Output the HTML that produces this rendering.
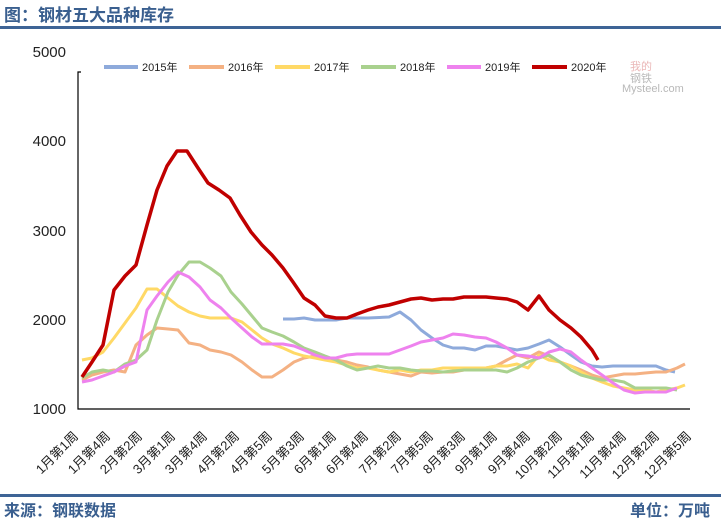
<!DOCTYPE html>
<html><head><meta charset="utf-8"><style>
body{margin:0;background:#fff;}
svg{display:block;font-family:"Liberation Sans","Noto Sans CJK SC",sans-serif;}
</style></head><body>
<svg width="721" height="523" viewBox="0 0 721 523">
<text x="4" y="21" font-size="17" font-weight="bold" fill="#3a5f8f">图：钢材五大品种库存</text>
<rect x="0" y="26" width="721" height="3" fill="#3e6496"/>
<rect x="0" y="494" width="721" height="3" fill="#3e6496"/>
<text x="4" y="516" font-size="16" font-weight="bold" fill="#3a5f8f">来源：钢联数据</text>
<text x="710" y="516" font-size="16" font-weight="bold" fill="#3a5f8f" text-anchor="end">单位：万吨</text>
<g font-size="15" fill="#222" text-anchor="end">
<text x="66" y="57">5000</text><text x="66" y="146">4000</text><text x="66" y="236">3000</text><text x="66" y="325">2000</text><text x="66" y="414">1000</text>
</g>
<path d="M81 72 H78 V409 H690" fill="none" stroke="#000" stroke-width="1.2"/>
<g font-size="11" fill="#8a8a8a" opacity="0.6"><text x="630" y="70" fill="#d88">我的</text><text x="630" y="82">钢铁</text><text x="622" y="92">Mysteel.com</text></g>
<g font-size="11" fill="#222">
<line x1="104" y1="67" x2="138" y2="67" stroke="#8eaadb" stroke-width="4"/><text x="142" y="71">2015年</text>
<line x1="189" y1="67" x2="224" y2="67" stroke="#f4b183" stroke-width="4"/><text x="228" y="71">2016年</text>
<line x1="275" y1="67" x2="310" y2="67" stroke="#ffd966" stroke-width="4"/><text x="314" y="71">2017年</text>
<line x1="361" y1="67" x2="396" y2="67" stroke="#a9d18e" stroke-width="4"/><text x="400" y="71">2018年</text>
<line x1="447" y1="67" x2="481" y2="67" stroke="#ee82ee" stroke-width="4"/><text x="485" y="71">2019年</text>
<line x1="532" y1="67" x2="567" y2="67" stroke="#c00000" stroke-width="4"/><text x="571" y="71">2020年</text>
</g>
<g fill="none" stroke-width="3" stroke-linejoin="round">
<polyline stroke="#8eaadb" points="283,319 294,319 304,318 315,320 336,320 347,318 368,318 389,317 400,312 411,320 421,330 432,338 443,345 453,348 464,348 475,350 486,346 496,346 507,348 517,350 528,348 539,344 549,340 560,347 571,355 581,362 592,366 602,367 613,366 624,366 635,366 645,366 656,366 666,370 675,372"/>
<polyline stroke="#f4b183" points="82,380 92,375 103,372 114,370 125,372 136,345 147,335 157,328 168,329 178,330 189,343 200,345 210,350 221,352 231,355 242,362 252,370 262,377 272,377 283,370 294,362 304,358 315,356 325,358 336,360 347,362 357,365 368,367 378,370 389,372 400,374 411,376 421,372 432,373 443,372 453,372 464,370 475,368 486,368 496,366 507,360 517,355 528,358 539,352 549,356 560,362 571,366 581,370 592,375 602,378 613,376 624,374 635,374 645,373 656,372 666,372 677,368 685,364"/>
<polyline stroke="#ffd966" points="82,360 92,358 103,352 114,338 125,323 136,308 147,289 157,289 168,298 178,306 189,312 200,316 210,318 221,318 231,318 242,322 252,330 262,338 272,344 283,348 294,353 304,356 315,358 325,360 336,362 347,365 357,368 368,368 378,370 389,372 400,370 411,372 421,370 432,370 443,368 453,368 464,368 475,368 486,368 496,366 507,366 517,364 528,368 539,355 549,360 560,362 571,366 581,372 592,378 602,382 613,386 624,388 635,390 645,390 656,392 666,390 677,388 685,385"/>
<polyline stroke="#a9d18e" points="82,378 92,372 103,370 114,372 125,364 136,360 147,350 157,320 168,292 178,275 189,262 200,262 210,268 221,276 231,292 242,304 252,316 262,328 272,332 283,336 294,342 304,348 315,352 325,356 336,360 347,366 357,370 368,368 378,366 389,368 400,368 411,370 421,371 432,371 443,372 453,371 464,370 475,370 486,370 496,370 507,372 517,368 528,362 539,358 549,355 560,362 571,370 581,375 592,378 602,380 613,380 624,382 635,388 645,388 656,388 666,388 677,390"/>
<polyline stroke="#ee82ee" points="82,382 92,380 103,376 114,372 125,366 136,362 147,310 157,296 168,282 178,272 189,277 200,287 210,300 221,308 231,318 242,328 252,337 262,344 272,344 283,344 294,346 304,350 315,355 325,358 336,358 347,355 357,354 368,354 378,354 389,354 400,350 411,346 421,342 432,340 443,338 453,334 464,335 475,337 486,338 496,342 507,348 517,355 528,356 539,358 549,352 560,349 571,352 581,360 592,368 602,375 613,383 624,390 635,393 645,392 656,392 666,392 677,388"/>
<polyline stroke="#c00000" stroke-width="3.5" points="82,377 92,362 103,345 114,290 125,276 136,265 147,225 157,190 167,166 177,151 187,151 198,168 208,183 219,190 230,198 240,215 251,232 262,245 272,255 283,268 293,282 304,298 315,305 325,316 336,318 347,318 357,314 368,310 378,307 389,305 400,302 411,299 421,298 432,300 443,299 453,299 464,297 475,297 486,297 496,298 507,299 517,302 528,310 539,296 549,310 560,320 571,328 581,337 592,350 598,360"/>
</g>
<g font-size="13" fill="#222" text-anchor="end">
<text transform="translate(79,437) rotate(-45)">1月第1周</text>
<text transform="translate(111,437) rotate(-45)">1月第4周</text>
<text transform="translate(143,437) rotate(-45)">2月第2周</text>
<text transform="translate(176,437) rotate(-45)">3月第1周</text>
<text transform="translate(208,437) rotate(-45)">3月第4周</text>
<text transform="translate(240,437) rotate(-45)">4月第2周</text>
<text transform="translate(273,437) rotate(-45)">4月第5周</text>
<text transform="translate(305,437) rotate(-45)">5月第3周</text>
<text transform="translate(337,437) rotate(-45)">6月第1周</text>
<text transform="translate(369,437) rotate(-45)">6月第4周</text>
<text transform="translate(402,437) rotate(-45)">7月第2周</text>
<text transform="translate(434,437) rotate(-45)">7月第5周</text>
<text transform="translate(466,437) rotate(-45)">8月第3周</text>
<text transform="translate(498,437) rotate(-45)">9月第1周</text>
<text transform="translate(531,437) rotate(-45)">9月第4周</text>
<text transform="translate(563,437) rotate(-45)">10月第2周</text>
<text transform="translate(595,437) rotate(-45)">11月第1周</text>
<text transform="translate(627,437) rotate(-45)">11月第4周</text>
<text transform="translate(660,437) rotate(-45)">12月第2周</text>
<text transform="translate(692,437) rotate(-45)">12月第5周</text>
</g>
</svg>
</body></html>
